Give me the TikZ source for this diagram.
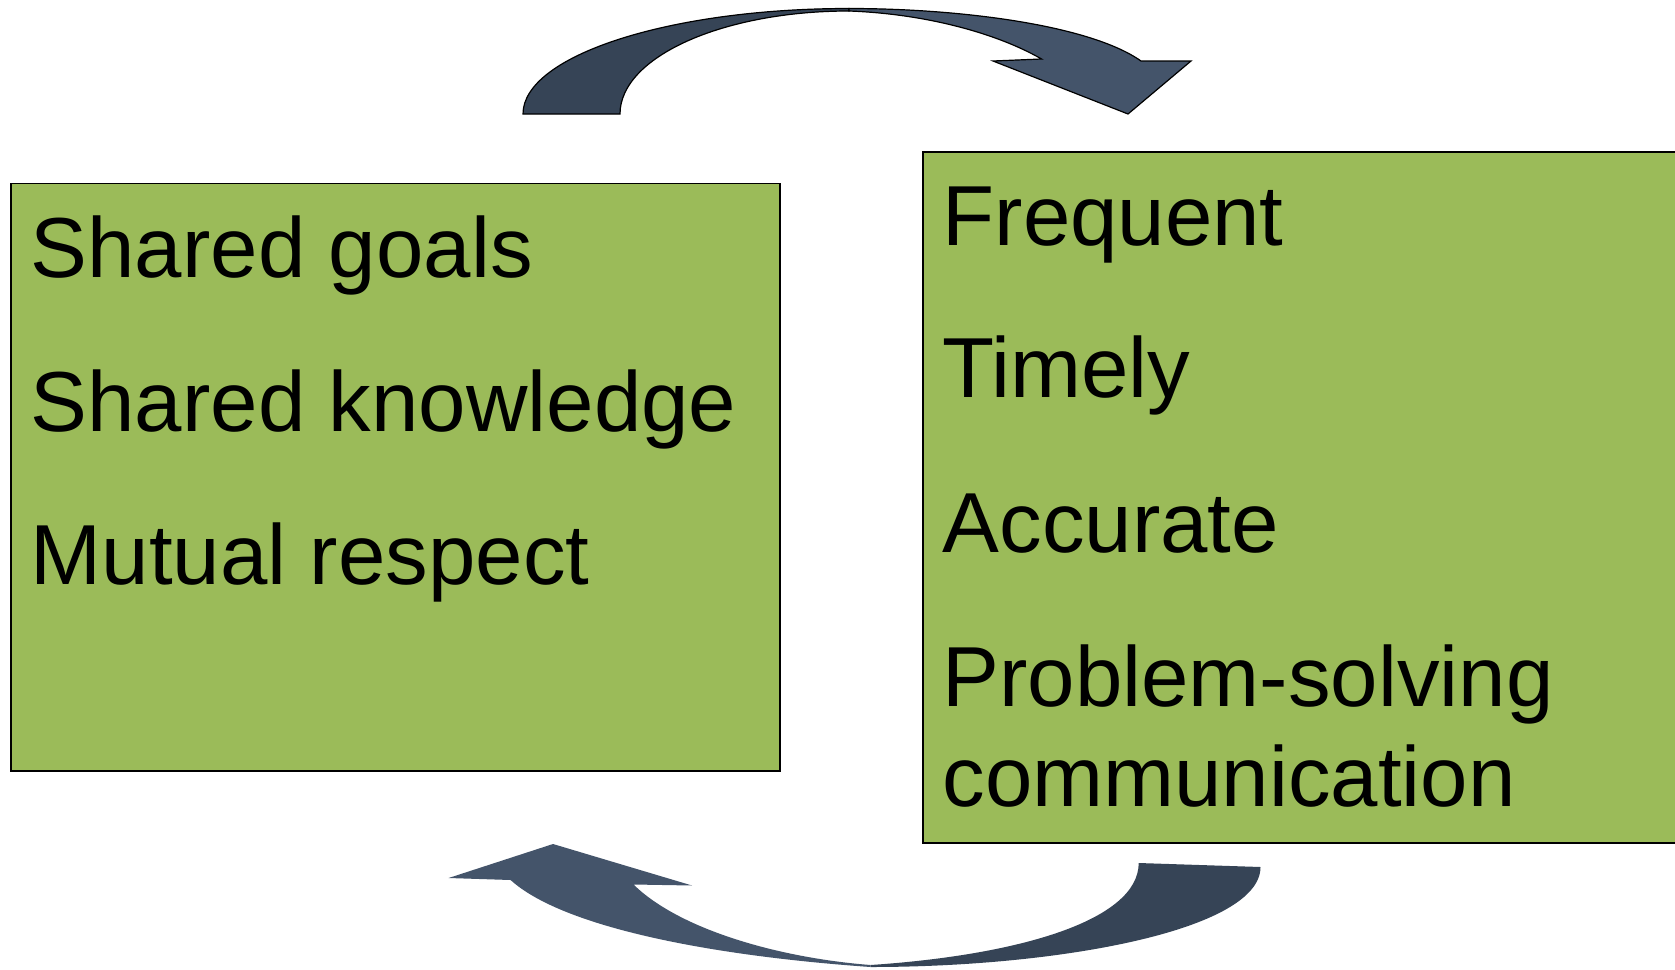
\documentclass[tikz,border=0pt]{standalone}
\usepackage{fontspec}
\setmainfont{Liberation Sans}
\definecolor{boxgreen}{HTML}{9BBB59}
\definecolor{arrdark}{HTML}{364456}
\definecolor{arrlight}{HTML}{44546A}
\begin{document}
\begin{tikzpicture}[x=1pt,y=1pt,
  box/.style={draw=black, line width=1.5pt, fill=boxgreen, rectangle, inner sep=0pt},
  txt/.style={anchor=base west, inner sep=0pt, font=\fontsize{85.2}{99}\selectfont},
  arrowtop/.style={draw=black, line width=1.2pt, line join=miter},
]
\clip (0,0) rectangle (1675,-969);
\fill[white] (0,0) rectangle (1675,-969);
% boxes
\node[box, minimum width=769pt, minimum height=587.5pt] (L) at (395.25,-477.45) {};
\node[box, minimum width=777pt, minimum height=691pt] (R) at (1311.5,-497.25) {};
% left text
\node[txt] (l1) at (30.5,-277.7) {Shared goals};
\node[txt] (l2) at (30.5,-431.6) {Shared knowledge};
\node[txt] (l3) at (30.5,-584.3) {Mutual respect};
% right text
\node[txt] (r1) at (942.5,-245.7) {Frequent};
\node[txt] (r2) at (942.5,-397.4) {Timely};
\node[txt] (r3) at (942.5,-552.3) {Accurate};
\node[txt] (r4) at (942.5,-706) {Problem-solving};
\node[txt] (r5) at (942.5,-806.5) {communication};
% top arrow: left (dark) half
\path[arrowtop, fill=arrdark] (523,-114) .. controls (523,-55.8) and (669,-8.5) .. (849,-8.5)
  -- (849,-11) .. controls (722.6,-11) and (620,-57) .. (620,-114) -- cycle;
% top arrow: right (light) half with head
\path[arrowtop, fill=arrlight] (849,-8.5) .. controls (960,-8.5) and (1090,-25) .. (1141,-61)
  -- (1191,-61) -- (1128,-114) -- (993,-61) -- (1041.5,-59)
  .. controls (1000,-35) and (930,-14) .. (849,-11) -- cycle;
% bottom arrow: right (dark) half
\fill[arrdark] (1138.7,-863) -- (1260.5,-867) .. controls (1260.5,-930) and (1060,-967) .. (870.6,-967)
  -- (870.6,-965) .. controls (1020,-955) and (1138.7,-920) .. cycle;
% bottom arrow: left (light) half with head
\fill[arrlight] (870.6,-967) .. controls (700,-955) and (560,-925) .. (510.6,-880)
  -- (448.6,-878) -- (553,-844) -- (692,-885.5) -- (633.5,-884.5)
  .. controls (680,-930) and (780,-958) .. (870.6,-965) -- cycle;
\end{tikzpicture}
\end{document}
